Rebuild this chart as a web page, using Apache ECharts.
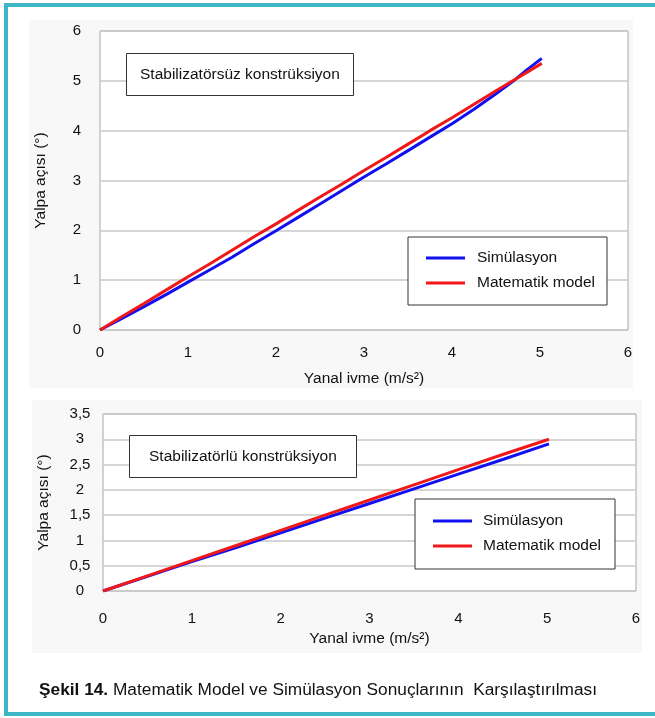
<!DOCTYPE html>
<html>
<head>
<meta charset="utf-8">
<script src="https://cdn.jsdelivr.net/npm/echarts@6/dist/echarts.min.js"></script>
<style>
  html, body { margin: 0; padding: 0; background: #fff; }
  #main { width: 655px; height: 718px; }
</style>
</head>
<body>
<div id="main"></div>
<script>
// ust grafik: stabilizatorsuz
var topX = [0, 0.25, 0.5, 0.75, 1, 1.25, 1.5, 1.75, 2, 2.25, 2.5, 2.75, 3, 3.25, 3.5, 3.75, 4, 4.25, 4.5, 4.7, 4.85, 5.02];
var topSim = [0, 0.23, 0.47, 0.71, 0.96, 1.21, 1.46, 1.73, 1.99, 2.26, 2.53, 2.80, 3.07, 3.33, 3.60, 3.87, 4.14, 4.43, 4.74, 5.00, 5.22, 5.45];
var topModel = [0, 0.27, 0.53, 0.80, 1.07, 1.33, 1.60, 1.87, 2.13, 2.40, 2.67, 2.93, 3.20, 3.46, 3.73, 4.00, 4.26, 4.53, 4.80, 5.01, 5.17, 5.35];

// alt grafik: stabilizatorlu
var botX = [0, 0.5, 1, 1.5, 2, 2.5, 3, 3.5, 4, 4.5, 5.02];
var botSim = [0, 0.29, 0.58, 0.86, 1.15, 1.44, 1.73, 2.02, 2.31, 2.60, 2.91];
var botModel = [0, 0.30, 0.60, 0.90, 1.20, 1.50, 1.80, 2.10, 2.40, 2.70, 3.00];

var seriesNames = ['Simülasyon', 'Matematik model'];
var titles = ['Stabilizatörsüz konstrüksiyon', 'Stabilizatörlü konstrüksiyon'];
var xName = 'Yanal ivme (m/s²)';
var yName = 'Yalpa açısı (°)';
var caption = 'Matematik Model ve Simülasyon Sonuçlarının  Karşılaştırılması';

var FONT = "'Liberation Sans', Arial, sans-serif";
var BLUE = '#1010f0';
var RED = '#f01818';
var TEAL = '#3fb6c6';

function pairs(xs, ys) {
    var out = [];
    for (var i = 0; i < xs.length; i++) {
        out.push([xs[i], ys[i]]);
    }
    return out;
}

function commaFmt(v) {
    return String(v).replace('.', ',');
}

var myChart = echarts.init(document.getElementById('main'), null, { renderer: 'canvas' });

var xAxisBase = {
    type: 'value',
    min: 0,
    max: 6,
    interval: 1,
    name: xName,
    nameLocation: 'middle',
    nameTextStyle: { fontSize: 15.5, color: '#111' },
    axisLine: { show: false },
    axisTick: { show: false },
    splitLine: { show: false },
    axisLabel: { fontSize: 15, color: '#111' }
};

var option = {
    animation: false,
    backgroundColor: '#fff',
    textStyle: { fontFamily: FONT },
    graphic: [
        { type: 'rect', shape: { x: 29, y: 20, width: 604, height: 368 }, style: { fill: '#f8f8f8' }, z: -10 },
        { type: 'rect', shape: { x: 32, y: 400, width: 610, height: 253 }, style: { fill: '#f8f8f8' }, z: -10 },
        { type: 'rect', shape: { x: 4, y: 3, width: 651, height: 4 }, style: { fill: TEAL } },
        { type: 'rect', shape: { x: 4, y: 3, width: 4, height: 713 }, style: { fill: TEAL } },
        { type: 'rect', shape: { x: 4, y: 712, width: 651, height: 4 }, style: { fill: TEAL } }
    ],
    title: [
        {
            text: titles[0],
            left: 126, top: 53,
            padding: [13, 14, 12, 14],
            borderColor: '#333', borderWidth: 1, backgroundColor: '#fff',
            textStyle: { fontSize: 15.5, fontWeight: 'normal', color: '#111', lineHeight: 18, fontFamily: FONT }
        },
        {
            text: titles[1],
            left: 129, top: 435,
            padding: [13, 20, 12, 20],
            borderColor: '#333', borderWidth: 1, backgroundColor: '#fff',
            textStyle: { fontSize: 15.5, fontWeight: 'normal', color: '#111', lineHeight: 18, fontFamily: FONT }
        },
        {
            text: '{b|Şekil 14.} ' + caption,
            left: 39, top: 682,
            padding: 0,
            textStyle: {
                fontSize: 17.3, fontWeight: 'normal', color: '#111', fontFamily: FONT,
                rich: { b: { fontSize: 17.3, fontWeight: 'bold', color: '#111', fontFamily: FONT } }
            }
        }
    ],
    legend: [
        {
            data: seriesNames,
            orient: 'vertical',
            left: 408, top: 237,
            padding: [12, 12, 13, 18],
            itemGap: 7,
            itemWidth: 39, itemHeight: 3,
            icon: 'rect',
            borderColor: '#333', borderWidth: 1, backgroundColor: '#fff',
            textStyle: { fontSize: 15.5, color: '#111', lineHeight: 18, padding: [0, 0, 0, 7] }
        },
        {
            data: seriesNames,
            orient: 'vertical',
            left: 415, top: 499,
            padding: [13, 14, 14, 18],
            itemGap: 7,
            itemWidth: 39, itemHeight: 3,
            icon: 'rect',
            borderColor: '#333', borderWidth: 1, backgroundColor: '#fff',
            textStyle: { fontSize: 15.5, color: '#111', lineHeight: 18, padding: [0, 0, 0, 6] }
        }
    ],
    grid: [
        { left: 100, top: 31, width: 528, height: 299, show: true, backgroundColor: '#fff', borderColor: '#a8a8a8', borderWidth: 1 },
        { left: 103, top: 414, width: 533, height: 177, show: true, backgroundColor: '#fff', borderColor: '#a8a8a8', borderWidth: 1 }
    ],
    xAxis: [
        echarts.util.merge({ gridIndex: 0, nameGap: 41, axisLabel: { margin: 15 } }, xAxisBase),
        echarts.util.merge({ gridIndex: 1, nameGap: 40, axisLabel: { margin: 20 } }, xAxisBase)
    ],
    yAxis: [
        {
            gridIndex: 0, type: 'value', min: 0, max: 6, interval: 1,
            name: yName, nameLocation: 'middle', nameGap: 51, nameRotate: 90,
            nameTextStyle: { fontSize: 15.5, color: '#111' },
            axisLine: { show: false }, axisTick: { show: false },
            axisLabel: { fontSize: 15, color: '#111', margin: 19 },
            splitLine: { lineStyle: { color: '#c8c8c8', width: 1.5 } }
        },
        {
            gridIndex: 1, type: 'value', min: 0, max: 3.5, interval: 0.5,
            name: yName, nameLocation: 'middle', nameGap: 51, nameRotate: 90,
            nameTextStyle: { fontSize: 15.5, color: '#111' },
            axisLine: { show: false }, axisTick: { show: false },
            axisLabel: { fontSize: 15, color: '#111', margin: 23, align: 'center', formatter: commaFmt },
            splitLine: { lineStyle: { color: '#c8c8c8', width: 1.5 } }
        }
    ],
    series: [
        { name: seriesNames[0], type: 'line', xAxisIndex: 0, yAxisIndex: 0, data: pairs(topX, topSim), showSymbol: false, color: BLUE, lineStyle: { width: 3 } },
        { name: seriesNames[1], type: 'line', xAxisIndex: 0, yAxisIndex: 0, data: pairs(topX, topModel), showSymbol: false, color: RED, lineStyle: { width: 3 } },
        { name: seriesNames[0], type: 'line', xAxisIndex: 1, yAxisIndex: 1, data: pairs(botX, botSim), showSymbol: false, color: BLUE, lineStyle: { width: 3 } },
        { name: seriesNames[1], type: 'line', xAxisIndex: 1, yAxisIndex: 1, data: pairs(botX, botModel), showSymbol: false, color: RED, lineStyle: { width: 3 } }
    ]
};

myChart.setOption(option);
</script>
</body>
</html>
